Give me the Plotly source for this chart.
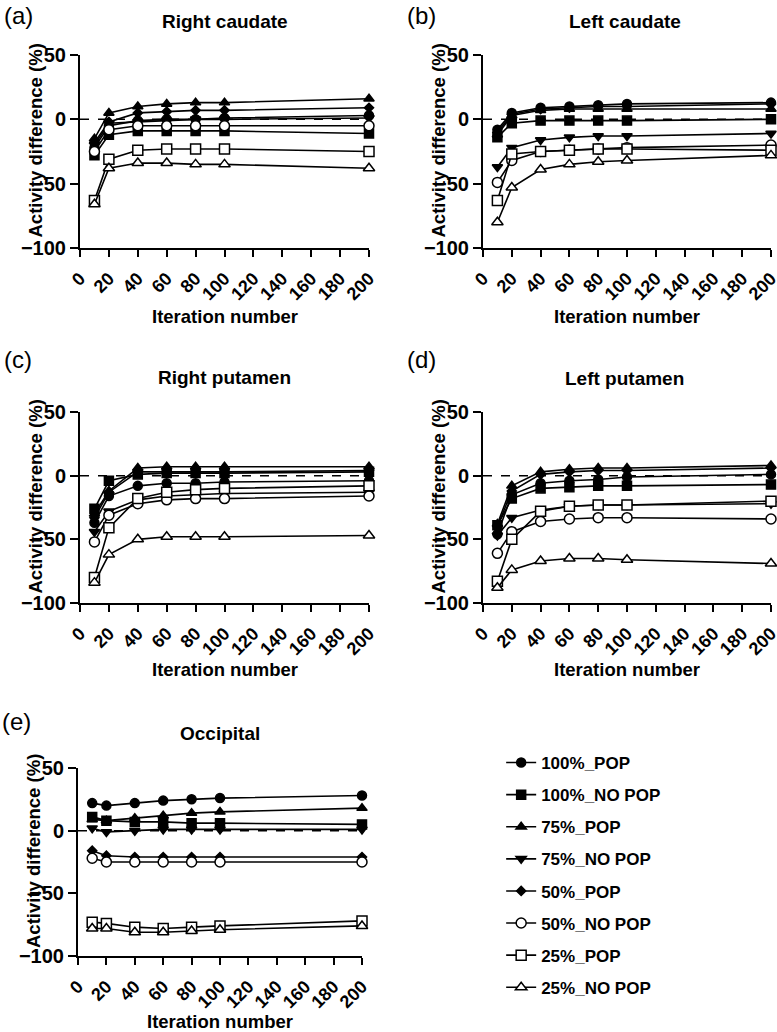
import plotly.graph_objects as go

iterations = [10, 20, 40, 60, 80, 100, 200]
series_names = ["100%_POP", "100%_NO POP", "75%_POP", "75%_NO POP",
                "50%_POP", "50%_NO POP", "25%_POP", "25%_NO POP"]

# Right caudate
right_caudate = {
    "100%_POP":    [-22, -5, -1, 0, 0, 1, 3],
    "100%_NO POP": [-28, -12, -9, -9, -9, -9, -11],
    "75%_POP":     [-15, 5, 10, 12, 13, 13, 16],
    "75%_NO POP":  [-20, -3, -2, -1, 0, 0, 1],
    "50%_POP":     [-18, -2, 5, 6, 7, 7, 9],
    "50%_NO POP":  [-25, -8, -5, -5, -5, -5, -5],
    "25%_POP":     [-63, -31, -24, -23, -23, -23, -25],
    "25%_NO POP":  [-66, -38, -34, -34, -35, -35, -38],
}
# Left caudate
left_caudate = {
    "100%_POP":    [-8, 5, 9, 10, 11, 12, 13],
    "100%_NO POP": [-14, -3, -1, -1, -1, -1, 0],
    "75%_POP":     [-12, 3, 7, 8, 8, 8, 8],
    "75%_NO POP":  [-37, -22, -16, -14, -13, -13, -11],
    "50%_POP":     [-10, 4, 8, 9, 10, 10, 12],
    "50%_NO POP":  [-49, -32, -25, -24, -23, -22, -20],
    "25%_POP":     [-63, -27, -25, -24, -23, -23, -24],
    "25%_NO POP":  [-80, -53, -39, -35, -33, -32, -28],
}
# Right putamen
right_putamen = {
    "100%_POP":    [-37, -16, -8, -6, -6, -5, -4],
    "100%_NO POP": [-26, -4, 1, 2, 2, 2, 3],
    "75%_POP":     [-30, -12, 6, 7, 7, 7, 7],
    "75%_NO POP":  [-44, -28, -19, -16, -15, -14, -13],
    "50%_POP":     [-33, -13, 3, 3, 3, 3, 4],
    "50%_NO POP":  [-52, -31, -22, -19, -18, -18, -16],
    "25%_POP":     [-80, -41, -18, -13, -11, -10, -8],
    "25%_NO POP":  [-84, -62, -50, -48, -48, -48, -47],
}
# Left putamen
left_putamen = {
    "100%_POP":    [-46, -15, -6, -4, -3, -1, 1],
    "100%_NO POP": [-39, -18, -10, -9, -8, -8, -7],
    "75%_POP":     [-38, -8, 3, 5, 6, 6, 8],
    "75%_NO POP":  [-47, -33, -27, -24, -23, -23, -22],
    "50%_POP":     [-40, -12, 1, 3, 4, 4, 6],
    "50%_NO POP":  [-61, -44, -36, -34, -33, -33, -34],
    "25%_POP":     [-83, -50, -28, -24, -23, -23, -20],
    "25%_NO POP":  [-88, -74, -67, -65, -65, -66, -69],
}
# Occipital
occipital = {
    "100%_POP":    [22, 20, 22, 24, 25, 26, 28],
    "100%_NO POP": [11, 8, 7, 7, 6, 6, 5],
    "75%_POP":     [9, 8, 10, 12, 14, 15, 18],
    "75%_NO POP":  [2, -1, 0, 1, 1, 1, 1],
    "50%_POP":     [-16, -20, -21, -21, -21, -21, -21],
    "50%_NO POP":  [-22, -25, -25, -25, -25, -25, -25],
    "25%_POP":     [-73, -74, -77, -78, -77, -76, -72],
    "25%_NO POP":  [-78, -78, -81, -81, -80, -79, -76],
}

panels = [
    ("(a)", "Right caudate", right_caudate),
    ("(b)", "Left caudate", left_caudate),
    ("(c)", "Right putamen", right_putamen),
    ("(d)", "Left putamen", left_putamen),
    ("(e)", "Occipital", occipital),
]

x_ticks = [0, 20, 40, 60, 80, 100, 120, 140, 160, 180, 200]
y_ticks = [-100, -50, 0, 50]
ZERO = 0

W, H = 777, 1032
# pixel boxes of plot areas (left, right, top, bottom)
boxes = [
    (80, 369, 55, 248),
    (483, 771, 55, 248),
    (80, 369, 412, 603),
    (483, 771, 412, 603),
    (78, 362, 768, 956),
]
# vertical pixel centres: panel label, panel title, x-axis title
text_rows = [
    (15, 21, 316),
    (15, 21, 316),
    (360, 377, 669),
    (360, 378, 669),
    (721, 733, 1021),
]

styles = {
    "100%_POP":    dict(symbol="circle", size=9, color="black"),
    "100%_NO POP": dict(symbol="square", size=9, color="black"),
    "75%_POP":     dict(symbol="triangle-up", size=9, color="black"),
    "75%_NO POP":  dict(symbol="triangle-down", size=9, color="black"),
    "50%_POP":     dict(symbol="diamond", size=7, color="black"),
    "50%_NO POP":  dict(symbol="circle", size=10, color="white"),
    "25%_POP":     dict(symbol="square", size=10, color="white"),
    "25%_NO POP":  dict(symbol="triangle-up", size=10, color="white"),
}

FONT = "Liberation Sans"
fig = go.Figure()
layout = {}
annotations = []
shapes = []

for i, ((lab, title, data), (l, r, t, b), (ly, ty, xy)) in enumerate(zip(panels, boxes, text_rows)):
    k = "" if i == 0 else str(i + 1)
    xa, ya = "x" + k, "y" + k
    for name in series_names:
        st = styles[name]
        fig.add_trace(go.Scatter(
            x=iterations, y=data[name], mode="lines+markers", name=name,
            xaxis=xa, yaxis=ya, legendgroup=name, showlegend=(i == 0),
            cliponaxis=False,
            line=dict(color="black", width=1.6),
            marker=dict(symbol=st["symbol"], size=st["size"], color=st["color"],
                        line=dict(color="black", width=1.5)),
        ))
    dx = [l / W, r / W]
    dy = [1 - b / H, 1 - t / H]
    layout["xaxis" + k] = dict(
        domain=dx, range=[0, 200], anchor=ya, tickvals=x_ticks, automargin=False,
        ticktext=[str(v) for v in x_ticks], tickangle=-45, ticklabeloverflow="allow",
        ticklabelstandoff=4,
        showline=True, linecolor="black", linewidth=2, ticks="outside",
        ticklen=7, tickwidth=2, tickcolor="black", showgrid=False, zeroline=False,
        tickfont=dict(family=FONT, size=18, color="black", weight="bold"),
    )
    layout["yaxis" + k] = dict(
        domain=dy, range=[-100, 50], anchor=xa, tickvals=y_ticks, automargin=False,
        ticklabeloverflow="allow",
        showline=True, linecolor="black", linewidth=2, ticks="outside",
        ticklen=8, tickwidth=2, tickcolor="black", showgrid=False, zeroline=False,
        tickfont=dict(family=FONT, size=20, color="black", weight="bold"),
    )
    shapes.append(dict(type="line", xref=xa, yref=ya, x0=0, x1=200, y0=ZERO, y1=ZERO,
                       line=dict(color="black", width=1.5, dash="dash"), layer="below"))
    cx = (l + r) / 2
    # panel title
    annotations.append(dict(text=title, xref="paper", yref="paper",
                            x=(cx) / W + (0.0 if i % 2 == 0 else -0.003),
                            y=1 - ty / H, xanchor="center", yanchor="middle",
                            showarrow=False,
                            font=dict(family=FONT, size=19, color="black", weight="bold")))
    # panel label
    annotations.append(dict(text=lab, xref="paper", yref="paper",
                            x=(l - 78) / W, y=1 - ly / H,
                            xanchor="left", yanchor="middle", showarrow=False,
                            font=dict(family=FONT, size=24, color="black")))
    # y axis title
    annotations.append(dict(text="Activity difference (%)", xref="paper", yref="paper",
                            x=(l - 45) / W, y=1 - ((t + b) / 2 - 11) / H, textangle=-90,
                            xanchor="center", yanchor="middle", showarrow=False,
                            font=dict(family=FONT, size=18.5, color="black", weight="bold")))
    # x axis title
    annotations.append(dict(text="Iteration number", xref="paper", yref="paper",
                            x=cx / W, y=1 - xy / H,
                            xanchor="center", yanchor="middle", showarrow=False,
                            font=dict(family=FONT, size=18.5, color="black", weight="bold")))

fig.update_layout(
    width=W, height=H, margin=dict(l=0, r=0, t=0, b=0, autoexpand=False),
    paper_bgcolor="white", plot_bgcolor="white",
    annotations=annotations, shapes=shapes,
    legend=dict(x=0.645, y=1 - 745 / H, xanchor="left", yanchor="top",
                traceorder="grouped", tracegroupgap=7,
                font=dict(family=FONT, size=17, color="black", weight="bold"),
                bgcolor="rgba(0,0,0,0)"),
    **layout,
)

fig.write_html("out.html", config={"displayModeBar": False},
               post_script="document.body.style.margin='0';document.body.style.overflow='hidden';")
